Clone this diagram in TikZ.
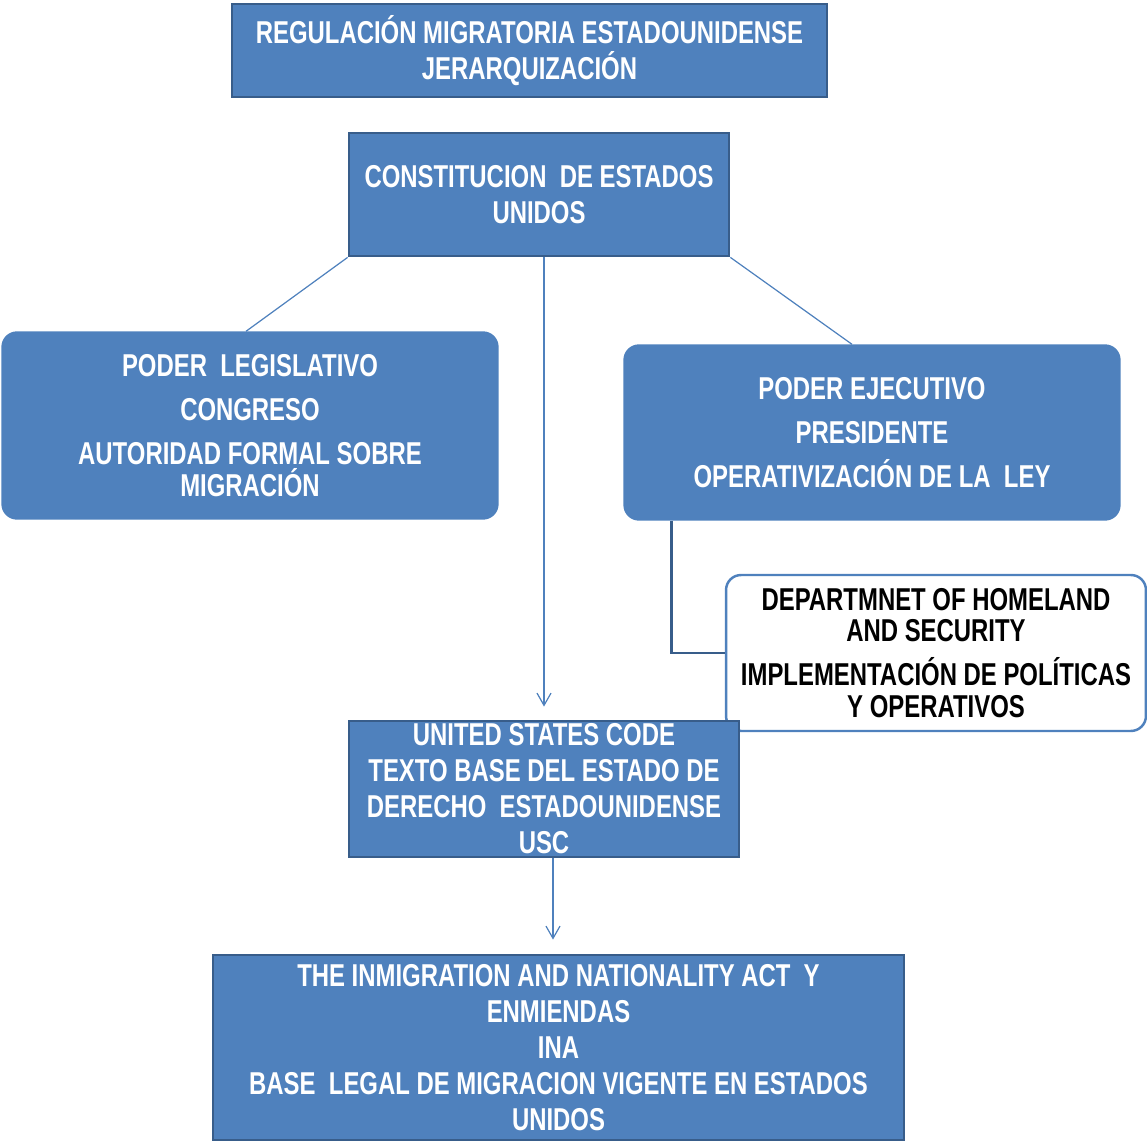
\documentclass[tikz,border=0pt]{standalone}
\usepackage{fontspec}
\setmainfont{Liberation Sans}[FakeStretch=0.756]
\usetikzlibrary{arrows.meta,calc}
\definecolor{boxblue}{RGB}{79,129,189}
\definecolor{edgeblue}{RGB}{56,93,138}
\tikzset{
	bluebox/.style={draw=edgeblue, line width=1.6pt, fill=boxblue, text=white, align=center,
		font=\fontsize{18}{20.5}\selectfont\bfseries, inner sep=0pt},
	roundbox/.style={draw=boxblue, line width=0.8pt, fill=boxblue, rounded corners=0.3cm, text=white,
		align=center, font=\fontsize{18}{18}\selectfont\bfseries, inner sep=0pt},
	dhsbox/.style={draw=boxblue, line width=1.4pt, fill=white, rounded corners=0.3cm, text=black,
		align=center, font=\fontsize{18}{18}\selectfont\bfseries, inner sep=0pt},
	link/.style={draw=boxblue, line width=0.7pt},
	arr/.style={link, -{Straight Barb[length=7pt,width=8pt]}},
	elbow/.style={draw=edgeblue, line width=1.5pt}
}
\begin{document}
\begin{tikzpicture}[x=0.02cm, y=-0.02cm]
	\useasboundingbox (0,0) rectangle (1147,1141);
	\node[bluebox, minimum width=11.9cm, minimum height=1.86cm] (title) at (529.5,50.5)
		{REGULACIÓN MIGRATORIA ESTADOUNIDENSE\\JERARQUIZACIÓN};
	\node[bluebox, minimum width=7.6cm, minimum height=2.46cm] (const) at (539,194.5)
		{CONSTITUCION\ \ DE ESTADOS\\UNIDOS};
	\node[roundbox, minimum width=9.92cm, minimum height=3.74cm] (leg) at (250,425.5)
		{PODER\ \ LEGISLATIVO\\[7pt]CONGRESO\\[7pt]AUTORIDAD FORMAL SOBRE\\MIGRACIÓN};
	\node[roundbox, minimum width=9.92cm, minimum height=3.5cm] (ejec) at (872,432.5)
		{PODER EJECUTIVO\\[7pt]PRESIDENTE\\[7pt]OPERATIVIZACIÓN DE LA\ \ LEY};
	\node[dhsbox, minimum width=8.4cm, minimum height=3.12cm] (dhs) at (936,653)
		{DEPARTMNET OF HOMELAND\\AND SECURITY\\[7pt]IMPLEMENTACIÓN DE POLÍTICAS\\Y OPERATIVOS};
	\node[bluebox, minimum width=7.8cm, minimum height=2.72cm] (usc) at (544,789)
		{UNITED STATES CODE\\TEXTO BASE DEL ESTADO DE\\DERECHO\ \ ESTADOUNIDENSE\\USC};
	\node[bluebox, minimum width=13.82cm, minimum height=3.7cm] (ina) at (558.5,1047.5)
		{THE INMIGRATION AND NATIONALITY ACT\ \ Y\\ENMIENDAS\\INA\\BASE\ \ LEGAL DE MIGRACION VIGENTE EN ESTADOS\\UNIDOS};

	\draw[link] (const.south west) -- ($(leg.north)+(-4,0)$);
	\draw[link] (const.south east) -- ($(ejec.north)+(-20,0)$);
	\draw[arr, shorten >=0.26cm] (const.south -| usc.north) -- (usc.north);
	\coordinate (uscout) at ($(usc.south)+(9,0)$);
	\draw[arr, shorten >=0.28cm] (uscout) -- (uscout |- ina.north);
	\draw[elbow] ($(ejec.south west)+(48,0)$) |- (dhs.west);
\end{tikzpicture}
\end{document}
